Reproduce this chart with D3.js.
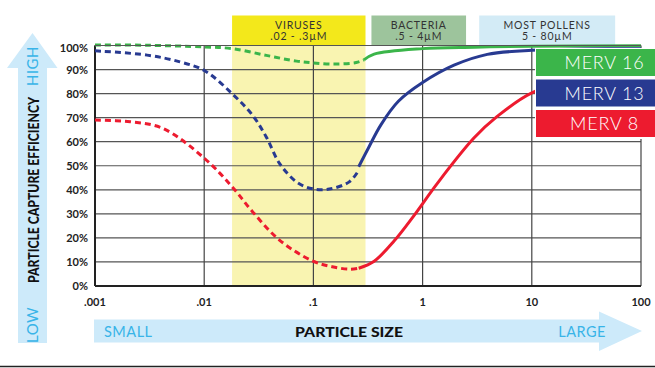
<!DOCTYPE html>
<html><head><meta charset="utf-8">
<script src="https://cdn.jsdelivr.net/npm/d3@7"></script>
<style>html,body{margin:0;padding:0;background:#fff;}svg{display:block;}</style>
</head><body>
<script>
// ---- data ----
const xTickValues = [0.001, 0.01, 0.1, 1, 10, 100];
const xTickLabels = [".001", ".01", ".1", "1", "10", "100"];
const yTickValues = [0,10,20,30,40,50,60,70,80,90,100];

const seriesNames = ["MERV 16", "MERV 13", "MERV 8"];
const seriesColors = ["#3bb54a", "#283a91", "#ed1b2f"];

// MERV 16
const merv16DashSizes = [0.001, 0.003, 0.01, 0.018, 0.037, 0.07, 0.098, 0.149, 0.247, 0.29];
const merv16DashVals  = [100.2, 100.1, 99.4, 98.7, 95.9, 93.5, 92.8, 92.3, 92.9, 94.0];
const merv16SolidSizes = [0.29, 0.36, 1, 3, 10, 100];
const merv16SolidVals  = [94.0, 96.4, 98.7, 99.3, 99.7, 99.9];
// MERV 13
const merv13DashSizes = [0.001, 0.003, 0.006, 0.0101, 0.018, 0.0277, 0.037, 0.0489, 0.07, 0.098, 0.14, 0.213, 0.255];
const merv13DashVals  = [97.8, 96.0, 93.2, 89.5, 80.0, 71.0, 62.0, 51.0, 43.3, 40.4, 40.3, 43.3, 47.5];
const merv13SolidSizes = [0.26, 0.32, 0.415, 0.6, 1, 1.94, 3.91, 10, 30, 100];
const merv13SolidVals  = [49.6, 57.5, 67.0, 76.8, 84.6, 91.8, 96.3, 98.0, 98.5, 98.7];
// MERV 8
const merv8DashSizes = [0.001, 0.0021, 0.0042, 0.0101, 0.018, 0.0277, 0.0489, 0.098, 0.149, 0.213, 0.26];
const merv8DashVals  = [69.0, 68.3, 65.5, 53.0, 41.3, 30.9, 19.1, 10.4, 8.0, 7.0, 7.4];
const merv8SolidSizes = [0.26, 0.36, 0.55, 0.84, 1.365, 2.95, 4.82, 10, 30, 100];
const merv8SolidVals  = [7.4, 10.3, 18.8, 29.5, 42.7, 61.5, 70.5, 80.3, 87, 90];

// header category boxes
const headerNames  = ["VIRUSES", "BACTERIA", "MOST POLLENS"];
const headerRanges = [".02 - .3\u00b5M", ".5 - 4\u00b5M", "5 - 80\u00b5M"];
const headerFrom   = [0.018, 0.34, 3.3];
const headerTo     = [0.3, 2.5, 58];
const headerColors = ["#f3e81b", "#9dc49c", "#d3ebf6"];
const virusBandFrom = 0.018, virusBandTo = 0.3;

// ---- layout ----
const W = 655, H = 368;
const svg = d3.select("body").append("svg").attr("width", W).attr("height", H);
const FONT = "Lato, 'Open Sans', sans-serif";
const x = d3.scaleLog().domain([0.001, 100]).range([95, 641]);
const y = d3.scaleLinear().domain([0, 100]).range([286, 45.5]);

// virus band
svg.append("rect").attr("x", x(virusBandFrom)).attr("y", y(100))
  .attr("width", x(virusBandTo) - x(virusBandFrom)).attr("height", y(0) - y(100))
  .attr("fill", "#f9f4b1");

// header boxes
headerNames.forEach((n, i) => {
  const x0 = x(headerFrom[i]), x1 = x(headerTo[i]);
  svg.append("rect").attr("x", x0).attr("y", 15.5).attr("width", x1 - x0).attr("height", y(100) - 15.5)
    .attr("fill", headerColors[i]);
  const cx = (x0 + x1) / 2;
  svg.append("text").attr("x", cx).attr("y", 29).attr("text-anchor", "middle")
    .attr("font-family", FONT).attr("font-size", 10.5).attr("fill", "#333").attr("letter-spacing", 0.8).text(n);
  svg.append("text").attr("x", cx).attr("y", 39.5).attr("text-anchor", "middle")
    .attr("font-family", FONT).attr("font-size", 10.5).attr("fill", "#333").attr("letter-spacing", 0.8).text(headerRanges[i]);
});

// gridlines
const grid = svg.append("g");
yTickValues.forEach(v => {
  grid.append("line").attr("x1", x(0.001)).attr("x2", x(100)).attr("y1", y(v)).attr("y2", y(v))
    .attr("stroke", "#555").attr("stroke-width", 1.2);
});
xTickValues.forEach(v => {
  grid.append("line").attr("x1", x(v)).attr("x2", x(v)).attr("y1", y(0)).attr("y2", y(100))
    .attr("stroke", "#444").attr("stroke-width", 1.2);
});
// axes lines
svg.append("line").attr("x1", x(0.001)).attr("x2", x(100)).attr("y1", y(0)).attr("y2", y(0)).attr("stroke", "#222").attr("stroke-width", 2);
svg.append("line").attr("x1", x(0.001)).attr("x2", x(0.001)).attr("y1", y(0)).attr("y2", y(100)).attr("stroke", "#222").attr("stroke-width", 2);

// tick labels
yTickValues.forEach(v => {
  svg.append("text").attr("x", 88).attr("y", y(v) + 4 + (v === 100 ? 2 : 0)).attr("text-anchor", "end")
    .attr("font-family", FONT).attr("font-weight", 700).attr("font-size", 11).attr("fill", "#222").text(v + "%");
});
xTickValues.forEach((v, i) => {
  svg.append("text").attr("x", x(v)).attr("y", 305.5).attr("text-anchor", "middle")
    .attr("font-family", FONT).attr("font-weight", 700).attr("font-size", 11).attr("fill", "#222").text(xTickLabels[i]);
});

// curves
const line = d3.line().x(d => x(d[0])).y(d => y(d[1])).curve(d3.curveCatmullRom.alpha(0.5));
const zip = (a, b) => a.map((v, i) => [v, b[i]]);
const series = [
  [merv16DashSizes, merv16DashVals, merv16SolidSizes, merv16SolidVals],
  [merv13DashSizes, merv13DashVals, merv13SolidSizes, merv13SolidVals],
  [merv8DashSizes, merv8DashVals, merv8SolidSizes, merv8SolidVals]
];
series.forEach((s, i) => {
  svg.append("path").attr("d", line(zip(s[0], s[1]))).attr("fill", "none")
    .attr("stroke", seriesColors[i]).attr("stroke-width", 3).attr("stroke-dasharray", "6,4");
  svg.append("path").attr("d", line(zip(s[2], s[3]))).attr("fill", "none")
    .attr("stroke", seriesColors[i]).attr("stroke-width", 3);
});
// top border over curves
svg.append("line").attr("x1", x(0.001)).attr("x2", x(100)).attr("y1", y(100)).attr("y2", y(100)).attr("stroke", "#555").attr("stroke-width", 1.2);

// legend
svg.append("rect").attr("x", 535).attr("y", 48).attr("width", 120).attr("height", 91).attr("fill", "#fff");
seriesNames.forEach((n, i) => {
  const top = 49 + i * 30.5;
  svg.append("rect").attr("x", 536).attr("y", top).attr("width", 119).attr("height", 27).attr("fill", seriesColors[i]);
  svg.append("text").attr("x", 604.5).attr("y", top + 20).attr("text-anchor", "middle")
    .attr("font-family", FONT).attr("font-weight", 300).attr("font-size", 18).attr("letter-spacing", 0.8)
    .attr("fill", "#fff").text(n);
});

// arrows
const arrowFill = "#cdeafa";
svg.append("path").attr("fill", arrowFill)
  .attr("d", "M18,343 L18,68 L7,68 L32.5,33 L57.5,68 L47,68 L47,343 Z");
svg.append("path").attr("fill", arrowFill)
  .attr("d", "M94,319.5 L599,319.5 L599,311.5 L642,331 L599,351 L599,342.5 L94,342.5 Z");

// arrow texts
const blue = "#38b4e8";
svg.append("text").attr("transform", "translate(38,66) rotate(-90)").attr("text-anchor", "middle")
  .attr("font-family", FONT).attr("font-size", 15).attr("fill", blue).attr("letter-spacing", 0.5).text("HIGH");
svg.append("text").attr("transform", "translate(38,325) rotate(-90)").attr("text-anchor", "middle")
  .attr("font-family", FONT).attr("font-size", 15).attr("fill", blue).attr("letter-spacing", 0.5).text("LOW");
svg.append("text").attr("transform", "translate(38.5,190) rotate(-90)").attr("text-anchor", "middle")
  .attr("font-family", FONT).attr("font-weight", 900).attr("font-size", 15.5).attr("fill", "#111")
  .attr("textLength", 186).attr("lengthAdjust", "spacingAndGlyphs").text("PARTICLE CAPTURE EFFICIENCY");
svg.append("text").attr("x", 104).attr("y", 336.5)
  .attr("font-family", FONT).attr("font-size", 14.5).attr("fill", blue).attr("letter-spacing", 0.5).text("SMALL");
svg.append("text").attr("x", 606).attr("y", 336.5).attr("text-anchor", "end")
  .attr("font-family", FONT).attr("font-size", 14.5).attr("fill", blue).attr("letter-spacing", 0.5).text("LARGE");
svg.append("text").attr("x", 349).attr("y", 336.5).attr("text-anchor", "middle")
  .attr("font-family", FONT).attr("font-weight", 900).attr("font-size", 14).attr("fill", "#111")
  .attr("textLength", 108).attr("lengthAdjust", "spacingAndGlyphs").text("PARTICLE SIZE");

// bottom rule
svg.append("line").attr("x1", 0).attr("x2", W).attr("y1", 366.5).attr("y2", 366.5).attr("stroke", "#222").attr("stroke-width", 1.5);
</script>
</body></html>
